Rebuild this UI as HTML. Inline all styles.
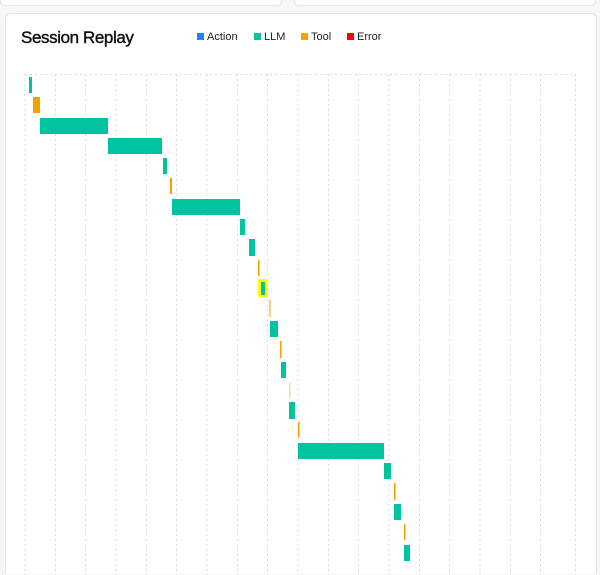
<!DOCTYPE html>
<html style="width:600px;height:575px;overflow:hidden"><head><style>
body{margin:0;width:600px;height:575px;background:#f6f7f9;overflow:hidden;font-family:"Liberation Sans",sans-serif;position:relative}
.card{position:absolute;left:5px;top:13px;width:590px;height:560px;background:#fff;border:1px solid #e3e6ea;border-bottom:none;border-radius:6px 6px 0 0}
.top1{position:absolute;left:0;top:-6px;width:280px;height:10px;background:#fff;border:1px solid #e3e6ea;border-radius:5px}
.top2{position:absolute;left:294px;top:-6px;width:300px;height:10px;background:#fff;border:1px solid #e3e6ea;border-radius:5px}
h1{position:absolute;left:21px;top:28px;margin:0;font-size:17px;font-weight:normal;color:#111;letter-spacing:-0.4px;-webkit-text-stroke:0.4px #111}
.lg{position:absolute;top:31px;font-size:11px;color:#222}
.lg i{display:inline-block;width:7px;height:7px;margin-right:3px;vertical-align:0}
</style></head><body>
<div class="top1"></div><div class="top2"></div>
<div class="card"></div>
<h1>Session Replay</h1>
<div class="lg" style="left:197px"><i style="background:#1a84ff"></i>Action</div>
<div class="lg" style="left:254px"><i style="background:#00c49f"></i>LLM</div>
<div class="lg" style="left:301px"><i style="background:#ff9f00"></i>Tool</div>
<div class="lg" style="left:347px"><i style="background:#f00"></i>Error</div>
<svg width="600" height="575" style="position:absolute;left:0;top:0">
<g stroke="#d8d8d8" stroke-dasharray="2,3" stroke-width="1">
<line x1="25" y1="74.5" x2="576" y2="74.5"/>
<line x1="25" y1="74" x2="25" y2="575"/><line x1="55.5" y1="74" x2="55.5" y2="575"/><line x1="85.5" y1="74" x2="85.5" y2="575"/><line x1="116" y1="74" x2="116" y2="575"/><line x1="146.5" y1="74" x2="146.5" y2="575"/><line x1="176.5" y1="74" x2="176.5" y2="575"/><line x1="207" y1="74" x2="207" y2="575"/><line x1="237.5" y1="74" x2="237.5" y2="575"/><line x1="267.5" y1="74" x2="267.5" y2="575"/><line x1="298" y1="74" x2="298" y2="575"/><line x1="328.5" y1="74" x2="328.5" y2="575"/><line x1="358.5" y1="74" x2="358.5" y2="575"/><line x1="389" y1="74" x2="389" y2="575"/><line x1="419.5" y1="74" x2="419.5" y2="575"/><line x1="449.5" y1="74" x2="449.5" y2="575"/><line x1="480" y1="74" x2="480" y2="575"/><line x1="510.5" y1="74" x2="510.5" y2="575"/><line x1="540.5" y1="74" x2="540.5" y2="575"/><line x1="575.5" y1="74" x2="575.5" y2="575"/>
</g>
<g fill="#00c49f">
<rect x="29" y="77" width="3" height="16"/>
<rect x="40" y="118" width="68" height="16"/>
<rect x="108" y="138" width="54" height="16"/>
<rect x="163" y="158" width="4" height="16"/>
<rect x="172" y="199" width="68" height="16"/>
<rect x="240" y="219" width="5" height="16"/>
<rect x="249" y="239" width="6" height="17"/>
<rect x="270" y="321" width="8" height="16"/>
<rect x="281" y="362" width="5" height="16"/>
<rect x="289" y="402" width="6" height="17"/>
<rect x="298" y="443" width="86" height="16"/>
<rect x="384" y="463" width="7" height="16"/>
<rect x="394" y="504" width="7" height="16"/>
<rect x="404" y="545" width="6" height="16"/>
</g>
<rect x="258" y="279" width="9" height="18" fill="#ffff00"/>
<rect x="261" y="282" width="4" height="13" fill="#00c49f"/>
<g fill="#f5a000">
<rect x="33" y="97" width="7" height="16"/>
<rect x="170" y="178" width="2" height="16"/>
<rect x="258" y="260" width="1.5" height="16"/>
<rect x="269" y="300" width="2" height="17" opacity="0.5"/>
<rect x="280" y="341" width="1.5" height="17"/>
<rect x="289" y="382" width="1.5" height="16" opacity="0.4"/>
<rect x="298" y="422" width="1.5" height="16"/>
<rect x="394" y="483" width="1.5" height="17"/>
<rect x="404" y="524" width="1.5" height="16"/>
</g>
</svg>
</body></html>
